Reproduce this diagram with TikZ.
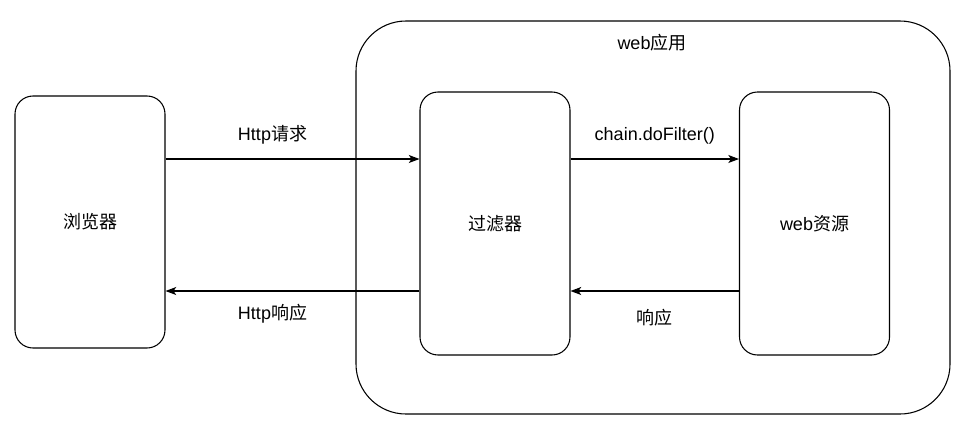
\documentclass[tikz,border=0pt]{standalone}
\usepackage{fontspec}
\setmainfont{Liberation Sans}
\newfontfamily\cjk{Noto Sans CJK SC}
\usetikzlibrary{arrows.meta}

\begin{document}
\begin{tikzpicture}[x=0.75pt, y=-0.75pt, line width=0.8pt, font=\fontsize{13.5pt}{16pt}\selectfont] % 1単位=1px
    \useasboundingbox (0,0) rectangle (973,430); % 図の大きさ
    \tikzset{box/.style={draw, rounded corners=13.5pt, minimum width=112.5pt, inner sep=0pt},
             arr/.style={-{Stealth[length=8pt, width=6pt, inset=2pt]}}}

    \node[draw, rounded corners=37.5pt, minimum width=445.5pt, minimum height=294.75pt] (webapp) at (653,217.5) {}; % 外枠
    \node (webapplabel) at (652,43) {web{\cjk 应用}};

    \node[box, minimum height=189pt] (browser) at (90,222) {\cjk 浏览器};
    \node[box, minimum height=197.25pt] (filter) at (495,223.5) {\cjk 过滤器};
    \node[box, minimum height=197.25pt] (webres) at (814.5,223.5) {web{\cjk 资源}};

    \coordinate (req) at (0,159); % 上の矢印の高さ
    \coordinate (res) at (0,291); % 下の矢印の高さ

    \draw[arr] (browser.east |- req) -- (filter.west |- req) node[midway, above=7pt, xshift=-15pt] {Http{\cjk 请求}};
    \draw[arr] (filter.east |- req) -- (webres.west |- req) node[midway, above=7pt] {chain.doFilter()};
    \draw[arr] (webres.west |- res) -- (filter.east |- res) node[midway, below=10pt] {\cjk 响应};
    \draw[arr] (filter.west |- res) -- (browser.east |- res) node[midway, below=6pt, xshift=-15pt] {Http{\cjk 响应}};

\end{tikzpicture}
\end{document}
